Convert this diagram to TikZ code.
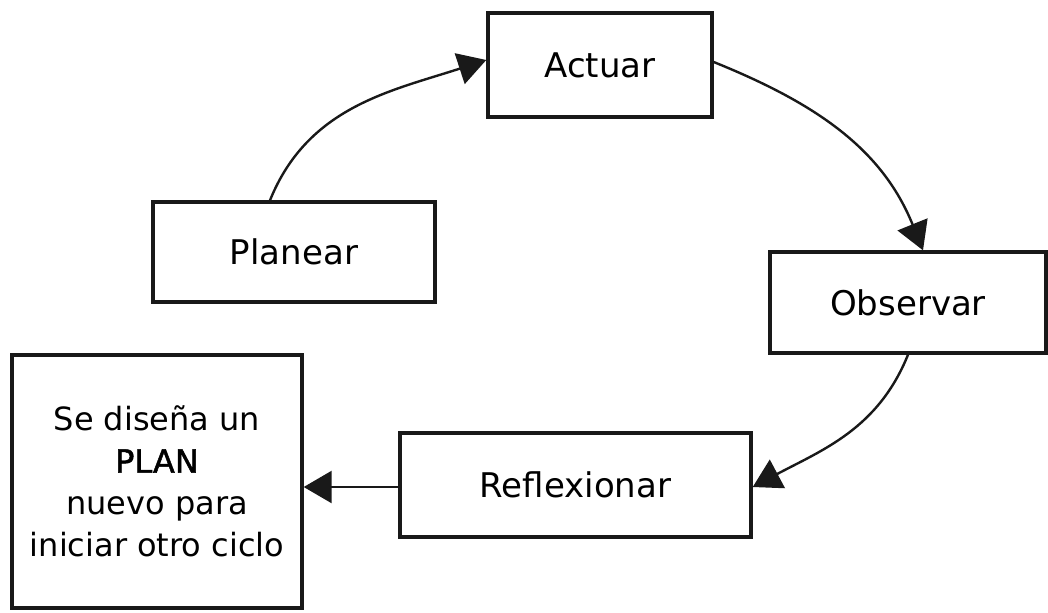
\documentclass[tikz,border=0pt]{standalone}
\usepackage{fontspec}
\setmainfont{DejaVu Sans}
\newfontfamily\plansemi[FakeBold=1.5]{DejaVu Sans}
\usetikzlibrary{arrows.meta}
\begin{document}
\begin{tikzpicture}[x=0.5pt,y=-0.5pt,
  box/.style={draw=black!90, line width=1.7pt, fill=white, inner sep=0pt, font=\fontsize{17}{21}\selectfont},
  link/.style={draw=black!90, line width=1.2pt, -{Triangle[length=14pt,width=16pt]}}]
\useasboundingbox (0,0) rectangle (1048,612);
\node[box, minimum width=112pt, minimum height=52pt] (ac) at (600,65) {Actuar};
\node[box, minimum width=141pt, minimum height=50pt] (pl) at (294,252) {Planear};
\node[box, minimum width=138pt, minimum height=50.5pt] (ob) at (908,302.5) {Observar};
\node[box, minimum width=175.5pt, minimum height=52pt] (re) at (575.5,485) {Reflexionar};
\node[box, minimum width=145pt, minimum height=126.5pt, align=center, font=\fontsize{16}{21}\selectfont] (nu) at (157,481.5) {Se diseña un\\{\plansemi PLAN}\\nuevo para\\iniciar otro ciclo};
\draw[link] ([xshift=-12pt]pl.north) to[out=68,in=198] ([yshift=2.5pt]ac.west);
\draw[link] ([yshift=1.5pt]ac.east) to[out=-22,in=112] ([xshift=7.5pt]ob.north);
\draw[link] ([xshift=0pt]ob.south) to[out=-112,in=28] ([yshift=-1pt]re.east);
\draw[link] ([yshift=-1pt]re.west) -- ([yshift=-1pt]re.west -| nu.east);
\end{tikzpicture}
\end{document}
